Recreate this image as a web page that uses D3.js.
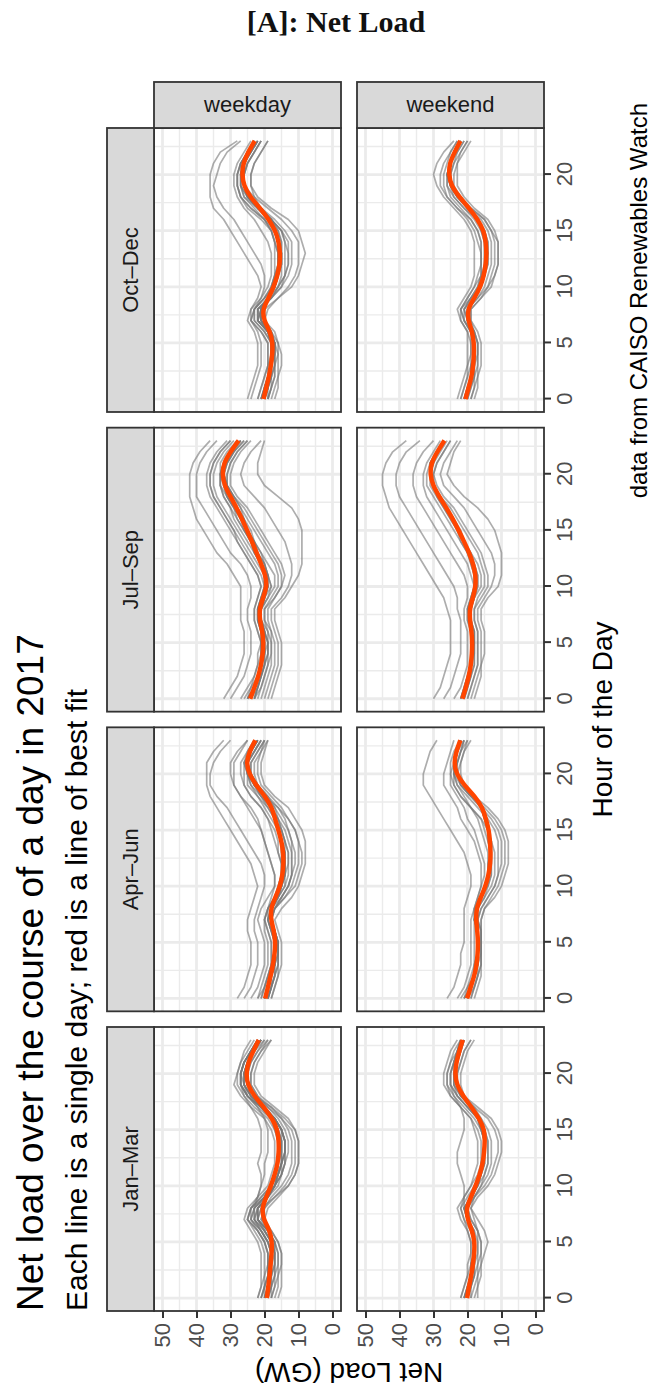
<!DOCTYPE html>
<html>
<head>
<meta charset="utf-8">
<script src="https://cdn.jsdelivr.net/npm/d3@7"></script>
<style>
  body { margin: 0; background: #fff; }
  text { font-family: "Liberation Sans", Arial, Helvetica, sans-serif; }
</style>
</head>
<body>
<svg id="chart" width="655" height="1395"></svg>
<script>
// ---- categories and ticks ----
const quarters = ["Jan–Mar", "Apr–Jun", "Jul–Sep", "Oct–Dec"];
const dayTypes = ["weekday", "weekend"];
const hourTicks = [0, 5, 10, 15, 20];
const hourMinor = [2.5, 7.5, 12.5, 17.5, 22.5];
const loadTicks = [0, 10, 20, 30, 40, 50];
const loadMinor = [5, 15, 25, 35, 45];

// ---- line of best fit, net load (GW) for hours 0..23 ----
const fitJanMarWeekday = [19.3,18.9,18.5,18.2,17.9,17.8,18.4,20.3,20.8,19.5,18.1,17.0,16.1,15.8,15.8,16.2,17.7,20.2,23.0,25.0,25.4,24.8,23.3,21.7];
const fitJanMarWeekend = [20.1,19.6,18.9,18.4,18.0,17.9,18.6,20.0,20.4,19.0,17.6,16.4,15.5,15.1,14.9,15.0,16.6,18.8,21.3,23.2,23.7,23.3,22.4,21.4];
const fitAprJunWeekday = [19.8,19.0,18.2,17.5,17.0,16.8,17.2,18.1,18.2,16.8,15.4,14.7,14.4,14.5,15.0,15.9,16.9,17.8,19.8,22.5,24.5,25.4,24.4,22.7];
const fitAprJunWeekend = [20.1,19.1,18.0,17.3,17.0,16.9,17.1,17.5,17.4,16.1,14.7,13.8,13.3,13.2,13.4,13.7,14.6,15.6,17.8,21.0,23.3,24.0,23.3,22.1];
const fitJulSepWeekday = [24.2,23.0,21.8,21.0,20.5,20.3,20.6,21.4,21.5,20.4,19.3,19.7,21.0,22.3,23.7,25.1,26.6,28.2,30.0,31.8,32.4,32.0,30.0,27.6];
const fitJulSepWeekend = [21.5,20.5,19.6,19.0,18.7,18.6,18.8,19.3,19.4,18.4,17.6,17.6,18.3,19.5,21.0,22.6,24.3,26.2,28.3,30.2,31.0,30.7,28.9,26.8];
const fitOctDecWeekday = [20.3,19.5,18.7,18.1,17.7,17.6,18.3,20.2,20.6,18.8,17.3,16.2,15.5,15.4,15.8,16.8,18.7,21.3,24.2,26.1,26.6,26.3,24.8,22.9];
const fitOctDecWeekend = [20.6,19.7,18.8,18.3,18.1,18.1,18.6,19.8,20.0,18.0,16.2,15.2,14.6,14.4,14.6,15.2,17.0,19.5,22.4,24.8,25.5,25.3,23.8,22.1];

// ---- individual days, net load (GW) for hours 0..23 ----
const daysJanMarWeekday = [
  [22,21,21,21,21,22,24,26,25,22,19,18,17,17,17,18,20,24,27,29,28,27,26,24],
  [21,20,20,19,19,20,22,25,24,21,18,16,15,14,14,15,17,21,25,27,27,26,24,22],
  [20,19,18,18,18,19,21,24,23,20,17,16,15,14,14,15,17,20,24,26,26,25,23,21],
  [19,18,17,17,17,17,19,22,22,19,17,15,14,13,13,14,16,19,23,25,26,25,23,20],
  [18,17,16,16,16,17,19,22,21,17,13,11,10,10,10,11,14,18,23,25,25,24,22,19],
  [17,16,16,15,15,16,18,21,20,17,14,12,11,11,11,12,15,19,22,24,24,23,21,18],
  [20,19,19,18,18,19,21,24,24,22,21,20,20,19,19,19,20,22,25,27,27,26,24,22],
  [21,20,19,19,19,20,22,24,23,22,21,21,22,21,21,21,22,24,26,27,27,26,24,22],
  [19,18,18,17,17,18,20,23,22,19,16,15,14,14,14,15,17,21,25,27,27,26,24,21],
  [22,21,20,20,20,21,23,25,24,21,18,17,16,16,16,17,19,23,26,28,28,27,25,23],
  [18,17,17,16,16,17,19,21,20,18,15,13,12,12,12,13,15,18,22,24,24,23,21,19],
  [16,15,15,15,15,16,18,20,19,16,13,11,10,10,10,11,13,17,21,23,23,22,20,18],
  [20,20,19,19,19,20,22,25,24,20,17,15,14,14,14,15,17,20,24,26,27,26,24,21],
  [19,19,18,18,18,19,21,23,22,19,17,16,15,15,15,16,18,22,25,27,27,26,24,22],
  [19,18,18,17,17,18,20,22,22,19,17,16,15,15,15,16,17,20,24,26,26,25,23,21],
  [20,19,19,18,18,18,20,23,23,20,18,17,16,16,16,16,18,21,24,26,26,25,24,22],
  [18,18,17,17,17,17,19,22,21,19,17,15,15,14,14,15,17,20,23,25,25,24,22,20],
  [19,19,18,18,18,18,20,22,22,20,18,16,16,15,15,16,18,21,24,25,26,25,23,21],
  [21,20,19,19,18,19,21,23,23,20,18,17,16,16,16,17,18,21,25,26,26,25,24,22],
  [20,19,18,18,17,18,19,22,22,19,17,16,15,15,15,15,17,20,23,25,26,25,23,21]
];
const daysJanMarWeekend = [
  [22,21,20,20,19,19,20,21,22,21,19,18,17,17,17,18,19,22,25,27,27,26,25,23],
  [21,20,19,18,18,18,19,20,21,19,17,15,14,14,14,15,17,20,23,25,25,24,23,22],
  [20,19,18,17,17,17,17,19,20,18,15,13,12,11,11,12,14,18,22,24,24,23,22,21],
  [19,18,17,17,16,16,17,18,19,17,14,12,11,10,10,11,13,17,21,23,23,22,21,19],
  [21,20,19,19,18,18,19,20,21,21,21,22,23,23,22,21,21,22,24,25,25,24,23,22],
  [20,19,18,18,18,18,18,20,21,19,17,16,16,15,15,16,17,20,23,25,25,24,23,21],
  [18,17,17,16,15,14,15,17,19,18,16,15,14,14,14,15,16,19,22,23,23,22,21,19],
  [22,21,20,19,19,19,20,22,23,21,19,17,16,16,16,17,19,22,25,26,26,25,24,22],
  [17,17,16,16,16,16,17,19,20,18,16,14,13,13,13,14,16,18,21,22,22,21,20,18],
  [21,20,19,19,18,18,19,21,22,20,18,16,15,15,15,16,18,21,24,26,26,25,23,22],
  [20,19,19,18,18,18,19,20,21,19,17,16,15,15,15,15,17,19,22,24,24,23,22,21],
  [19,19,18,18,17,17,18,20,20,19,17,16,15,15,15,16,17,19,22,23,24,23,22,21],
  [21,20,19,19,18,18,19,20,21,19,18,16,16,15,15,16,17,20,23,24,24,24,23,22]
];
const daysAprJunWeekday = [
  [28,26,25,24,24,24,25,25,24,23,22,23,24,26,28,30,32,34,36,37,37,37,35,32],
  [26,24,23,22,22,22,23,23,22,21,20,20,21,23,25,27,29,31,34,36,36,35,33,30],
  [24,22,21,20,20,20,21,22,21,19,17,17,18,19,20,21,22,24,27,29,29,29,27,25],
  [22,20,19,18,18,18,19,20,19,17,15,15,15,16,17,18,19,21,24,26,27,27,25,23],
  [20,19,18,17,17,17,18,19,18,15,13,12,12,12,13,14,16,18,21,24,25,25,23,21],
  [19,18,17,16,16,16,17,18,17,14,11,10,9,9,10,11,13,16,20,23,24,24,22,20],
  [18,17,16,15,15,15,16,17,15,12,10,9,8,8,8,9,11,13,17,20,21,21,20,19],
  [20,19,18,17,17,17,18,19,18,16,14,13,13,13,14,15,17,19,22,25,25,25,23,21],
  [19,18,17,17,16,16,17,18,17,15,13,12,12,12,12,13,15,17,20,23,24,24,22,20],
  [21,20,19,18,18,18,19,20,19,17,16,15,15,16,16,17,19,21,24,26,26,26,24,22],
  [18,17,16,16,16,16,17,18,17,14,12,11,10,10,10,11,13,15,18,21,22,22,21,19],
  [20,19,18,17,17,17,18,19,18,16,15,14,14,14,15,16,18,20,22,24,25,25,23,21],
  [19,18,17,16,16,16,17,18,17,15,13,12,11,11,12,13,14,16,19,22,23,23,21,20],
  [22,21,20,19,19,19,20,20,19,18,17,17,18,19,20,21,23,25,27,29,30,30,28,25],
  [20,19,18,17,17,17,17,18,18,16,15,14,14,14,15,16,17,18,20,23,25,25,24,22],
  [19,18,18,17,16,16,17,18,18,16,15,14,14,14,14,15,16,18,20,22,24,25,24,22],
  [20,19,18,18,17,17,17,18,18,17,15,15,14,15,15,16,17,18,21,23,25,26,24,23],
  [19,18,17,17,17,16,17,18,18,16,14,14,13,13,14,15,16,17,19,22,24,25,24,22],
  [21,20,19,18,17,17,18,19,19,17,16,15,15,15,15,16,17,19,21,23,25,26,25,23],
  [20,19,18,17,17,17,17,18,18,17,15,14,14,14,15,16,17,18,20,22,24,25,24,22]
];
const daysAprJunWeekend = [
  [26,24,23,22,22,21,21,21,21,20,19,19,20,21,23,25,27,29,31,33,33,32,31,29],
  [23,21,20,19,19,19,19,19,18,17,16,16,16,17,18,20,22,23,25,27,27,26,25,24],
  [21,19,18,17,17,17,17,17,17,15,13,12,12,12,13,14,16,19,22,24,25,25,24,22],
  [20,18,17,17,16,16,16,17,16,14,12,11,10,10,10,11,13,16,19,22,23,23,22,21],
  [19,18,17,16,16,16,16,16,15,12,10,9,8,8,8,9,11,14,18,21,22,22,21,20],
  [20,19,18,17,17,17,17,18,17,15,14,13,13,13,14,15,16,19,22,24,24,24,23,21],
  [18,17,16,16,16,16,16,16,15,13,11,10,9,9,9,10,12,15,19,22,23,22,21,19],
  [22,20,19,18,18,18,18,18,18,17,16,15,15,16,17,18,20,21,23,25,25,24,23,22],
  [19,18,17,16,16,16,16,17,16,14,12,11,11,11,11,12,14,17,20,23,24,23,22,20],
  [21,19,18,18,17,17,17,18,17,16,15,14,14,14,15,16,17,19,21,23,24,23,22,21],
  [20,19,18,17,17,17,17,18,17,16,15,14,13,13,13,14,15,16,18,21,23,24,23,22],
  [21,20,18,17,17,17,17,17,17,16,14,13,13,13,13,14,15,16,18,21,23,24,23,22],
  [20,19,18,18,17,17,17,18,18,16,15,14,14,13,14,14,15,16,19,22,24,24,23,22]
];
const daysJulSepWeekday = [
  [32,30,28,27,26,26,26,27,27,27,27,29,31,34,36,38,40,41,42,42,42,41,39,36],
  [30,28,26,25,24,24,24,25,25,24,24,25,27,30,32,34,36,38,40,40,40,39,37,34],
  [27,25,23,22,22,21,22,23,23,22,21,22,24,26,28,30,32,34,36,37,37,36,34,31],
  [25,23,22,21,20,20,21,22,22,20,19,20,22,24,26,28,30,32,34,35,35,34,32,29],
  [24,22,21,20,19,19,20,21,21,19,18,19,20,22,24,26,28,30,32,33,33,32,30,27],
  [23,21,20,19,19,19,19,21,21,19,17,17,19,21,23,25,27,29,31,32,32,31,29,26],
  [22,21,20,19,18,18,19,20,20,18,16,16,17,19,21,23,25,27,29,31,31,30,28,25],
  [21,20,19,18,18,18,18,20,20,17,15,14,15,17,19,21,23,25,28,30,30,29,27,24],
  [19,18,17,16,16,16,17,18,18,15,13,12,12,13,14,16,18,20,23,26,27,26,24,21],
  [18,17,16,15,15,15,16,17,17,14,12,10,9,9,9,9,10,12,16,20,22,22,21,20],
  [25,23,22,21,21,21,21,22,22,21,20,21,23,25,27,29,31,33,35,36,36,35,33,30],
  [23,22,21,20,19,19,20,21,21,20,19,20,21,23,25,27,29,30,32,33,33,32,30,27],
  [20,19,18,17,17,17,18,19,19,17,15,15,16,18,20,22,24,26,29,31,31,30,28,25],
  [26,24,23,22,21,21,22,23,23,22,21,22,24,26,28,29,31,33,35,36,36,35,33,30],
  [24,23,22,21,20,20,21,21,22,21,19,20,21,22,24,25,27,28,30,32,32,32,30,27],
  [25,23,22,21,21,20,21,22,22,21,20,20,21,23,24,26,27,29,31,32,33,32,30,28],
  [23,22,21,20,20,20,20,21,21,20,19,19,20,22,23,25,26,28,30,31,32,31,29,27],
  [24,23,22,21,20,20,20,21,21,20,19,19,21,22,23,25,26,28,30,31,32,32,30,28],
  [25,24,22,21,21,21,21,22,22,21,20,20,21,23,24,26,28,29,31,33,33,33,31,28],
  [23,22,21,20,20,19,20,21,21,20,18,19,20,21,23,24,26,27,29,31,32,31,29,26]
];
const daysJulSepWeekend = [
  [30,28,27,26,25,25,25,25,26,27,29,31,33,35,37,39,41,43,44,45,45,44,42,38],
  [27,25,24,23,22,22,22,22,23,23,24,26,28,30,32,34,36,38,40,41,41,40,38,34],
  [24,22,21,20,20,20,20,21,21,20,20,21,23,25,27,29,31,33,35,36,36,35,33,30],
  [22,21,20,19,19,19,19,20,20,19,18,19,20,22,24,26,28,30,32,33,33,32,30,28],
  [21,20,19,18,18,18,18,19,19,18,16,16,17,19,21,23,25,27,29,30,31,30,28,26],
  [20,19,18,17,17,17,17,18,18,16,14,14,15,16,18,20,22,24,27,29,30,29,27,25],
  [19,18,17,16,16,16,16,17,17,15,13,12,12,13,15,17,19,21,24,27,28,27,25,23],
  [18,17,16,16,15,15,15,16,16,14,11,10,10,10,11,12,14,17,21,24,26,25,24,22],
  [21,20,19,18,18,18,18,19,19,18,17,17,18,20,22,24,26,28,30,32,32,31,29,27],
  [20,19,18,17,17,17,17,18,18,17,15,15,16,17,19,21,23,25,28,30,30,29,27,25],
  [22,21,20,19,19,19,19,19,20,19,18,18,19,20,21,23,24,26,28,30,31,31,29,27],
  [21,20,19,19,18,18,18,19,19,18,17,17,18,19,21,22,24,26,28,30,31,30,29,27],
  [22,21,20,19,19,18,19,20,20,19,18,18,19,20,22,23,25,27,29,31,31,31,29,27]
];
const daysOctDecWeekday = [
  [25,24,23,22,22,22,23,25,24,22,21,22,24,26,28,30,32,35,36,36,36,35,33,28],
  [24,23,22,21,21,21,22,24,23,21,20,20,21,23,25,27,29,32,34,35,34,33,31,27],
  [22,21,20,19,19,19,21,24,24,21,19,18,18,18,19,21,23,26,28,29,29,28,26,24],
  [21,20,19,18,18,18,20,23,23,20,17,16,15,15,16,17,20,24,27,28,28,27,25,23],
  [20,19,18,18,17,17,19,22,22,19,16,14,13,13,14,15,18,22,26,27,27,26,24,22],
  [19,18,17,17,17,17,19,22,22,18,15,13,12,12,12,14,17,21,25,26,26,25,23,21],
  [18,17,16,16,16,16,18,20,20,16,12,10,9,8,9,10,13,18,22,24,24,23,21,19],
  [20,19,18,17,17,17,19,22,22,18,15,14,13,13,13,15,18,22,25,27,27,26,24,22],
  [19,18,17,17,16,17,18,21,21,18,16,15,15,15,15,16,18,22,25,26,26,25,23,21],
  [17,16,16,15,15,16,17,20,19,16,13,11,10,10,10,12,15,19,23,24,24,23,21,19],
  [21,20,19,18,18,18,20,23,23,20,18,17,17,17,17,18,20,24,27,28,28,27,25,23],
  [20,19,18,18,18,18,19,22,21,19,17,16,16,16,17,18,20,23,26,27,27,26,24,22],
  [19,18,18,17,17,17,19,22,21,18,16,14,14,14,14,15,18,22,25,26,26,25,23,21],
  [22,21,20,19,19,19,21,24,23,20,18,17,16,16,17,18,21,25,27,28,28,27,25,23],
  [20,19,19,18,18,18,19,21,21,19,17,16,16,15,16,17,19,21,24,26,27,26,25,23],
  [21,20,19,18,18,18,19,21,22,19,17,16,16,16,16,17,19,22,24,26,27,26,25,23],
  [20,20,19,18,18,17,18,21,21,19,17,16,15,15,16,17,18,21,24,26,26,26,25,23],
  [19,19,18,18,17,17,18,20,21,19,17,16,15,15,15,16,18,21,23,26,26,26,24,22],
  [21,20,19,19,18,18,19,21,21,19,17,16,16,16,16,17,19,22,25,27,27,27,25,23],
  [20,19,19,18,18,18,19,21,21,19,18,17,16,16,16,17,19,21,24,26,27,26,25,23]
];
const daysOctDecWeekend = [
  [23,22,21,20,20,20,20,22,23,21,19,18,18,18,18,19,21,24,27,29,30,29,27,24],
  [22,21,20,19,19,19,19,21,22,20,18,16,16,16,16,17,19,23,26,28,28,27,25,23],
  [21,20,19,18,18,18,19,21,22,19,16,15,14,14,14,15,17,21,24,26,26,25,24,22],
  [20,19,18,18,17,17,18,20,20,17,14,12,11,11,11,13,15,19,23,25,25,24,23,21],
  [19,18,17,17,17,17,18,19,19,16,14,13,12,12,12,13,15,19,22,24,24,23,22,20],
  [21,20,19,19,18,18,19,21,21,19,17,16,16,16,16,17,19,22,25,26,26,25,24,22],
  [18,17,17,16,16,16,17,19,19,16,13,12,11,11,11,12,14,18,21,23,23,23,21,19],
  [20,19,18,18,18,18,19,20,21,18,16,15,15,15,15,16,18,21,24,25,26,25,23,21],
  [22,21,20,20,19,19,20,22,22,20,18,17,16,16,17,18,20,23,26,27,27,26,25,23],
  [19,18,18,17,17,17,18,20,20,17,15,14,13,13,13,14,16,20,23,25,25,24,22,20],
  [21,20,19,18,18,18,19,20,20,18,16,15,15,14,15,15,17,20,23,25,25,25,24,22],
  [20,20,19,18,18,18,18,20,20,18,16,15,14,14,14,15,17,20,22,25,26,25,24,22],
  [21,20,19,19,18,18,19,20,21,19,17,16,15,15,15,16,17,20,23,25,26,25,24,22]
];

// one panel per quarter x day type
const panels = [
  { q: 0, d: 0, fit: fitJanMarWeekday, days: daysJanMarWeekday },
  { q: 0, d: 1, fit: fitJanMarWeekend, days: daysJanMarWeekend },
  { q: 1, d: 0, fit: fitAprJunWeekday, days: daysAprJunWeekday },
  { q: 1, d: 1, fit: fitAprJunWeekend, days: daysAprJunWeekend },
  { q: 2, d: 0, fit: fitJulSepWeekday, days: daysJulSepWeekday },
  { q: 2, d: 1, fit: fitJulSepWeekend, days: daysJulSepWeekend },
  { q: 3, d: 0, fit: fitOctDecWeekday, days: daysOctDecWeekday },
  { q: 3, d: 1, fit: fitOctDecWeekend, days: daysOctDecWeekend }
];

// ---- layout (drawn in a landscape frame, then turned a quarter turn) ----
const FW = 1395;            // landscape frame width
const panelLeft = 84, panelW = 284, colGap = 15.67;
const rowTop = [154, 357], panelH = 187;
const stripTop = 107, stripH = 47;       // quarter strips above the panels
const sideStripW = 46;                   // day-type strips right of the panels
const panelsRight = panelLeft + 4 * panelW + 3 * colGap;

const x = d3.scaleLinear().domain([-1.15, 24.15]).range([0, panelW]);
const y = d3.scaleLinear().domain([-2.5, 52.5]).range([panelH, 0]);

const svg = d3.select("#chart");

// heading
svg.append("text")
  .attr("x", 336).attr("y", 32)
  .attr("text-anchor", "middle")
  .style("font-family", "'Liberation Serif', 'DejaVu Serif', serif")
  .style("font-weight", "bold")
  .style("font-size", "30px")
  .attr("fill", "#111")
  .text("[A]: Net Load");

const frame = svg.append("g").attr("transform", `translate(0,${FW}) rotate(-90)`);

// titles
frame.append("text").attr("x", panelLeft).attr("y", 43)
  .style("font-size", "37px").attr("fill", "#000")
  .text("Net load over the course of a day in 2017");
frame.append("text").attr("x", panelLeft).attr("y", 87)
  .style("font-size", "30px").attr("fill", "#000")
  .text("Each line is a single day; red is a line of best fit");

const dayLine = d3.line().x((d, i) => x(i)).y(d => y(d));
const fitLine = d3.line().x((d, i) => x(i)).y(d => y(d)).curve(d3.curveBasis);

const colX = q => panelLeft + q * (panelW + colGap);

panels.forEach(p => {
  const g = frame.append("g").attr("transform", `translate(${colX(p.q)},${rowTop[p.d]})`);
  g.append("rect").attr("width", panelW).attr("height", panelH).attr("fill", "#fff");

  // grid
  g.selectAll(".vminor").data(hourMinor).join("line")
    .attr("x1", d => x(d)).attr("x2", d => x(d)).attr("y1", 0).attr("y2", panelH)
    .attr("stroke", "#ebebeb").attr("stroke-width", 1.4);
  g.selectAll(".hminor").data(loadMinor).join("line")
    .attr("y1", d => y(d)).attr("y2", d => y(d)).attr("x1", 0).attr("x2", panelW)
    .attr("stroke", "#ebebeb").attr("stroke-width", 1.4);
  g.selectAll(".vmajor").data(hourTicks).join("line")
    .attr("x1", d => x(d)).attr("x2", d => x(d)).attr("y1", 0).attr("y2", panelH)
    .attr("stroke", "#ebebeb").attr("stroke-width", 2.8);
  g.selectAll(".hmajor").data(loadTicks).join("line")
    .attr("y1", d => y(d)).attr("y2", d => y(d)).attr("x1", 0).attr("x2", panelW)
    .attr("stroke", "#ebebeb").attr("stroke-width", 2.8);

  // single days
  g.selectAll(".day").data(p.days).join("path")
    .attr("d", dayLine)
    .attr("fill", "none")
    .attr("stroke", "#777")
    .attr("stroke-opacity", 0.6)
    .attr("stroke-width", 1.7)
    .attr("stroke-linejoin", "round");

  // best fit
  g.append("path").attr("d", fitLine(p.fit))
    .attr("fill", "none").attr("stroke", "#ff4500").attr("stroke-width", 4.5);

  g.append("rect").attr("width", panelW).attr("height", panelH)
    .attr("fill", "none").attr("stroke", "#333").attr("stroke-width", 1.8);

  // axes
  if (p.q === 0) {
    const ax = g.append("g").call(d3.axisLeft(y).tickValues(loadTicks).tickSize(7).tickPadding(5));
    styleAxis(ax);
  }
  if (p.d === 1) {
    const ax = g.append("g").attr("transform", `translate(0,${panelH})`)
      .call(d3.axisBottom(x).tickValues(hourTicks).tickSize(7).tickPadding(5));
    styleAxis(ax);
  }
});

function styleAxis(ax) {
  ax.select(".domain").remove();
  ax.selectAll(".tick line").attr("stroke", "#333").attr("stroke-width", 2);
  ax.selectAll(".tick text")
    .attr("fill", "#4d4d4d")
    .style("font-size", "22px")
    .style("font-family", "'Liberation Sans', Arial, sans-serif");
}

// quarter strips
quarters.forEach((q, i) => {
  frame.append("rect").attr("x", colX(i)).attr("y", stripTop)
    .attr("width", panelW).attr("height", stripH)
    .attr("fill", "#d9d9d9").attr("stroke", "#333").attr("stroke-width", 1.8);
  frame.append("text").attr("x", colX(i) + panelW / 2).attr("y", stripTop + stripH / 2)
    .attr("text-anchor", "middle").attr("dominant-baseline", "central")
    .style("font-size", "22px").attr("fill", "#1a1a1a").text(q);
});

// day-type strips
dayTypes.forEach((t, i) => {
  frame.append("rect").attr("x", panelsRight).attr("y", rowTop[i])
    .attr("width", sideStripW).attr("height", panelH)
    .attr("fill", "#d9d9d9").attr("stroke", "#333").attr("stroke-width", 1.8);
  frame.append("text")
    .attr("transform", `translate(${panelsRight + sideStripW / 2},${rowTop[i] + panelH / 2}) rotate(90)`)
    .attr("text-anchor", "middle").attr("dominant-baseline", "central")
    .style("font-size", "22px").attr("fill", "#1a1a1a").text(t);
});

// axis titles
const panelsMid = (panelLeft + panelsRight) / 2;
frame.append("text").attr("x", panelsMid).attr("y", 612)
  .attr("text-anchor", "middle").style("font-size", "28px").attr("fill", "#000")
  .text("Hour of the Day");
frame.append("text")
  .attr("transform", `translate(32,${(rowTop[0] + rowTop[1] + panelH) / 2}) rotate(-90)`)
  .attr("text-anchor", "middle").style("font-size", "28px").attr("fill", "#000")
  .text("Net Load (GW)");

// caption
frame.append("text").attr("x", 1292).attr("y", 647)
  .attr("text-anchor", "end").style("font-size", "24px").attr("fill", "#000")
  .text("data from CAISO Renewables Watch");
</script>
</body>
</html>
